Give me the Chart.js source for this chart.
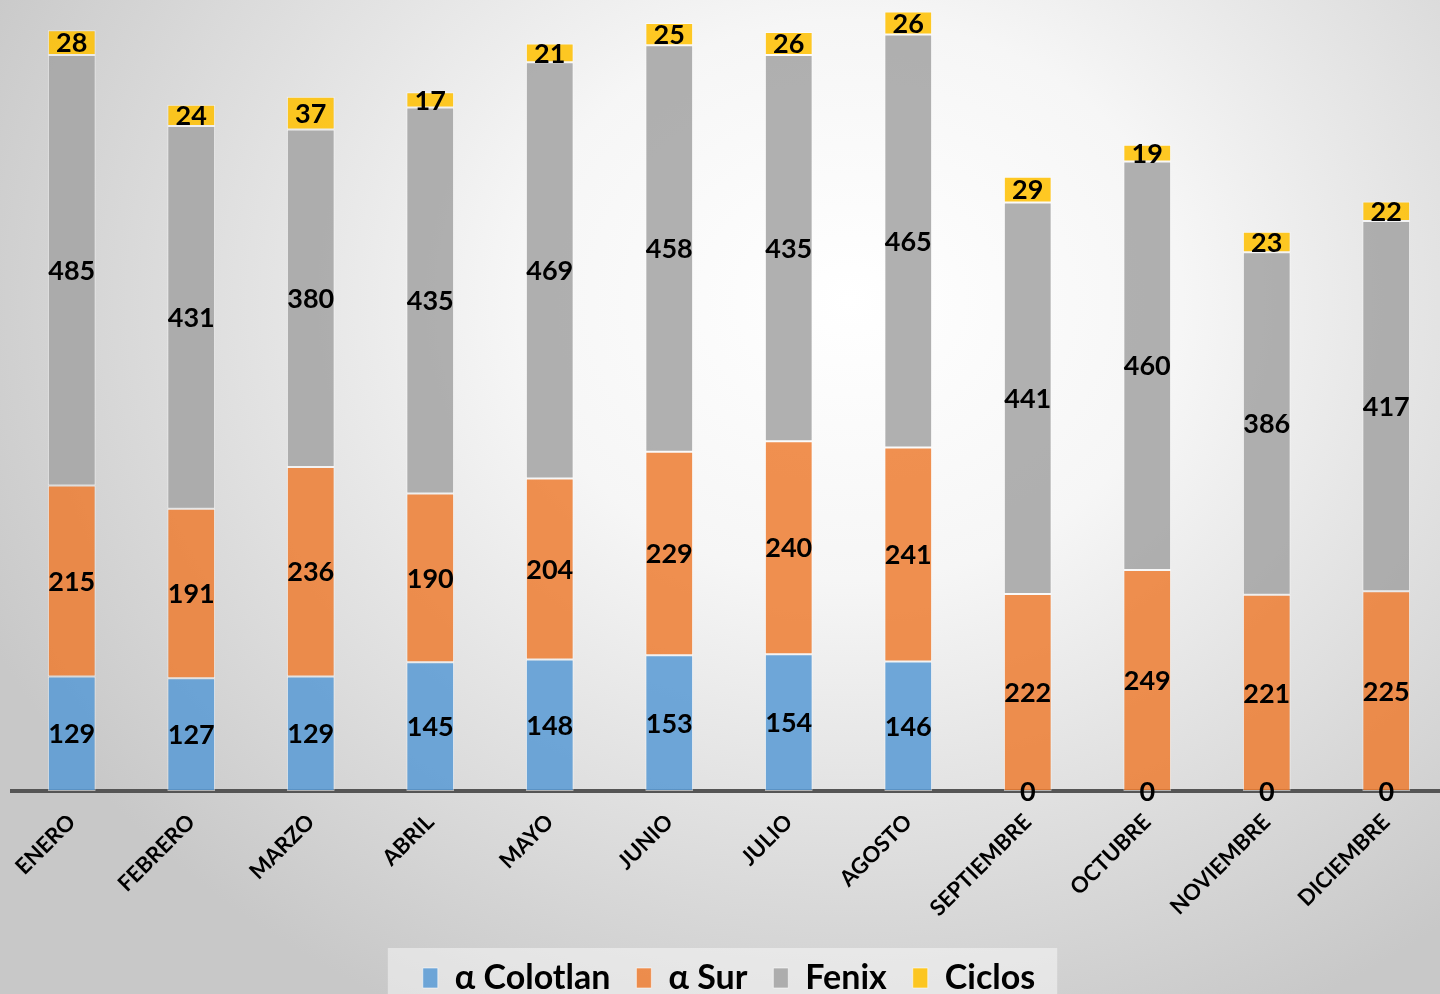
<!DOCTYPE html>
<html>
<head>
<meta charset="utf-8">
<script src="https://cdn.jsdelivr.net/npm/chart.js@4.4.1/dist/chart.umd.min.js"></script>
<style>
  html, body {
    margin: 0;
    padding: 0;
    width: 1440px;
    height: 994px;
    overflow: hidden;
  }
  body {
    background: radial-gradient(ellipse 950px 800px at 850px 300px, #ffffff 0%, #f6f6f6 35%, #c8c8c8 100%);
  }
  #wrap {
    position: absolute;
    left: 0;
    top: 0;
    width: 1446px;
    height: 1005px;
  }
</style>
</head>
<body>
<div id="wrap"><canvas id="chart" width="1446" height="1005"></canvas></div>
<script>
const months = ['ENERO', 'FEBRERO', 'MARZO', 'ABRIL', 'MAYO', 'JUNIO', 'JULIO', 'AGOSTO',
  'SEPTIEMBRE', 'OCTUBRE', 'NOVIEMBRE', 'DICIEMBRE'];
const colotlan = [129, 127, 129, 145, 148, 153, 154, 146, 0, 0, 0, 0];
const sur = [215, 191, 236, 190, 204, 229, 240, 241, 222, 249, 221, 225];
const fenix = [485, 431, 380, 435, 469, 458, 435, 465, 441, 460, 386, 417];
const ciclos = [28, 24, 37, 17, 21, 25, 26, 26, 29, 19, 23, 22];

const FONT = 'Lato, "Open Sans", sans-serif';

// value labels centered in each segment
const segmentLabels = {
  id: 'segmentLabels',
  afterDatasetsDraw(chart) {
    const ctx = chart.ctx;
    ctx.save();
    ctx.font = 'bold 27px ' + FONT;
    ctx.fillStyle = '#000';
    ctx.textAlign = 'center';
    ctx.textBaseline = 'middle';
    chart.data.datasets.forEach((ds, i) => {
      const meta = chart.getDatasetMeta(i);
      meta.data.forEach((bar, j) => {
        const { x, y, base } = bar.getProps(['x', 'y', 'base'], true);
        ctx.fillText(String(ds.data[j]), x, (y + base) / 2 + 1);
      });
    });
    ctx.restore();
  }
};

// lighter panel behind the legend
const legendPanel = {
  id: 'legendPanel',
  beforeDraw(chart) {
    const lg = chart.legend;
    if (!lg || !lg.legendHitBoxes || !lg.legendHitBoxes.length) return;
    const boxes = lg.legendHitBoxes;
    const first = boxes[0];
    const last = boxes[boxes.length - 1];
    const ctx = chart.ctx;
    ctx.save();
    ctx.fillStyle = 'rgba(255,255,255,0.45)';
    const top = first.top + first.height / 2 - 30;
    ctx.fillRect(first.left - 35, top, last.left + last.width - first.left + 57, 100);
    ctx.restore();
  }
};

new Chart(document.getElementById('chart'), {
  type: 'bar',
  data: {
    labels: months,
    datasets: [
      { label: 'α Colotlan', data: colotlan, backgroundColor: 'rgba(91,155,213,0.87)' },
      { label: 'α Sur', data: sur, backgroundColor: 'rgba(237,125,49,0.85)' },
      { label: 'Fenix', data: fenix, backgroundColor: 'rgba(165,165,165,0.88)' },
      { label: 'Ciclos', data: ciclos, backgroundColor: 'rgba(255,192,0,0.86)' }
    ].map(d => Object.assign(d, {
      borderColor: 'rgba(255,255,255,0.55)',
      borderWidth: 1,
      borderSkipped: false,
      barPercentage: 0.4,
      categoryPercentage: 1
    }))
  },
  options: {
    responsive: false,
    animation: false,
    layout: { padding: { left: 12, right: 0, top: 0, bottom: 0 } },
    plugins: {
      tooltip: { enabled: false },
      legend: {
        position: 'bottom',
        labels: {
          color: '#000',
          font: { family: FONT, size: 34, weight: 'bold' },
          boxWidth: 15,
          boxHeight: 20,
          padding: 26
        }
      }
    },
    scales: {
      x: {
        stacked: true,
        grid: { display: false },
        border: { display: true, color: '#555', width: 4 },
        ticks: {
          color: '#000',
          font: { family: FONT, size: 22, weight: 'bold' },
          minRotation: 45,
          maxRotation: 45,
          padding: 10
        },
        afterFit(scale) { scale.height = 144; }
      },
      y: {
        stacked: true,
        min: 0,
        max: 891,
        ticks: { display: false, stepSize: 100 },
        afterBuildTicks(scale) {
          scale.ticks = scale.ticks.filter(t => t.value % 100 === 0 && t.value > 0);
        },
        afterFit(scale) { scale.width = 0; },
        border: { display: false },
        grid: {
          drawTicks: false,
          lineWidth: 2,
          color: (c) => 'rgba(0,0,0,' + (0.46 - 0.0004 * (c.tick ? c.tick.value : 0)).toFixed(3) + ')'
        }
      }
    }
  },
  plugins: [legendPanel, segmentLabels]
});
</script>
</body>
</html>
